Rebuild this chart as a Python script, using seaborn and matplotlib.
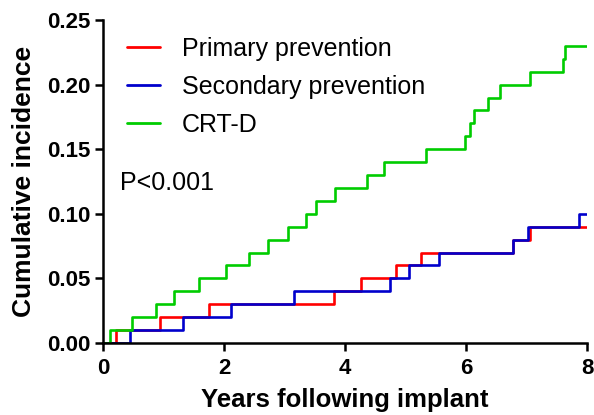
import matplotlib
matplotlib.use("Agg")
import matplotlib.pyplot as plt
import seaborn as sns
import pandas as pd

# ---- data ----
primary_t = [0.0, 0.22, 0.95, 1.76, 3.82, 4.26, 4.84, 5.25, 6.78, 7.05, 8.0]
primary_v = [0.00, 0.01, 0.02, 0.03, 0.04, 0.05, 0.06, 0.07, 0.08, 0.09, 0.09]

secondary_t = [0.0, 0.45, 1.32, 2.12, 3.16, 4.75, 5.05, 5.55, 6.77, 7.03, 7.87, 8.0]
secondary_v = [0.00, 0.01, 0.02, 0.03, 0.04, 0.05, 0.06, 0.07, 0.08, 0.09, 0.10, 0.10]

crtd_t = [0.0, 0.12, 0.48, 0.87, 1.17, 1.58, 2.03, 2.42, 2.73, 3.05, 3.35, 3.52,
          3.83, 4.37, 4.65, 5.34, 5.98, 6.06, 6.13, 6.37, 6.56, 7.05, 7.60, 7.64, 8.0]
crtd_v = [0.00, 0.01, 0.02, 0.03, 0.04, 0.05, 0.06, 0.07, 0.08, 0.09, 0.10, 0.11,
          0.12, 0.13, 0.14, 0.15, 0.16, 0.17, 0.18, 0.19, 0.20, 0.21, 0.22, 0.23, 0.23]

groups = ["Primary prevention", "Secondary prevention", "CRT-D"]
colors = ["#ff0000", "#0000cc", "#00cc00"]
x_ticks = [0, 2, 4, 6, 8]
y_ticks = [0.00, 0.05, 0.10, 0.15, 0.20, 0.25]
p_text = "P<0.001"
x_label = "Years following implant"
y_label = "Cumulative incidence"

df = pd.concat([
    pd.DataFrame({"t": primary_t, "v": primary_v, "g": groups[0]}),
    pd.DataFrame({"t": secondary_t, "v": secondary_v, "g": groups[1]}),
    pd.DataFrame({"t": crtd_t, "v": crtd_v, "g": groups[2]}),
], ignore_index=True)

sns.set_style("ticks")
plt.rcParams["font.family"] = ["Liberation Sans", "DejaVu Sans"]
plt.rcParams["text.color"] = "black"
plt.rcParams["axes.labelcolor"] = "black"
plt.rcParams["xtick.color"] = "black"
plt.rcParams["ytick.color"] = "black"

W, H = 594, 415
fig = plt.figure(figsize=(W / 100, H / 100), dpi=100)
ax = fig.add_axes([103 / W, 1 - 343 / H, 484 / W, 323 / H])

sns.lineplot(data=df, x="t", y="v", hue="g", hue_order=groups,
             palette=dict(zip(groups, colors)), drawstyle="steps-post",
             linewidth=1.9, ax=ax, estimator=None, sort=False)

ax.set_xlim(0, 8)
ax.set_ylim(0, 0.25)
ax.set_xticks(x_ticks)
ax.set_yticks(y_ticks)
ax.set_xticklabels([str(t) for t in x_ticks])
ax.set_yticklabels([f"{t:.2f}" for t in y_ticks])
for lab in ax.get_xticklabels() + ax.get_yticklabels():
    lab.set_fontweight("bold")
    lab.set_fontsize(16)
    lab.set_color("black")
ax.tick_params(axis="both", direction="out", length=6, width=1.8, colors="black")
ax.tick_params(axis="x", pad=5)
ax.tick_params(axis="y", pad=3)
for s in ["top", "right"]:
    ax.spines[s].set_visible(False)
for s in ["left", "bottom"]:
    ax.spines[s].set_linewidth(1.8)
    ax.spines[s].set_color("black")

ax.set_xlabel(x_label, fontsize=18.5, fontweight="bold", labelpad=6.5, color="black")
ax.set_ylabel(y_label, fontsize=19, fontweight="bold", labelpad=8, color="black")

leg = ax.legend(loc="upper left", bbox_to_anchor=(127 / W, 1 - 37 / H),
                bbox_transform=fig.transFigure, frameon=False, fontsize=18,
                handlelength=1.3, handletextpad=0.9, labelspacing=0.56,
                borderpad=0, borderaxespad=0)
for line in leg.get_lines():
    line.set_linewidth(2.0)
for t in leg.get_texts():
    t.set_color("black")

fig.text(120 / W, 1 - 183 / H, p_text, fontsize=18, va="center", ha="left",
         color="black")

fig.savefig("out.png", dpi=100)
